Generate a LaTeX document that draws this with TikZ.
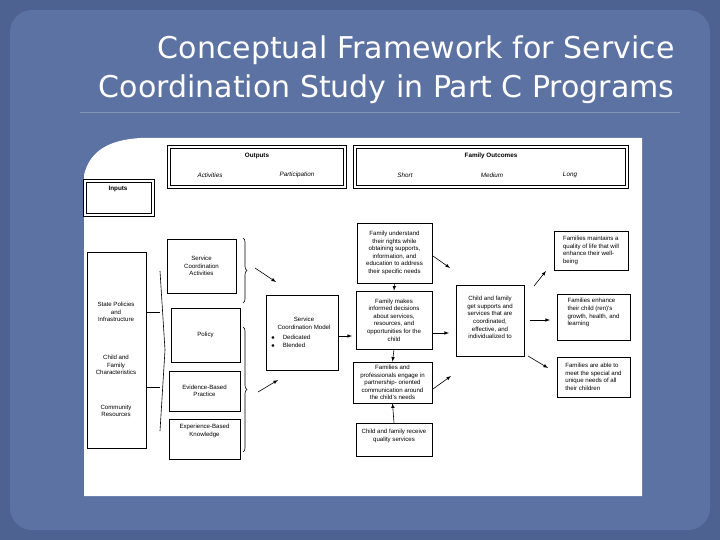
\documentclass[tikz,border=0pt]{standalone}
\usepackage{fontspec}
\setmainfont{Liberation Sans}
\newfontfamily\titlefont{DejaVu Sans}
\usetikzlibrary{decorations.pathreplacing}
\begin{document}
\begin{tikzpicture}[x=1pt,y=-1pt,
  bx/.style={draw=black,line width=0.6pt,fill=white,inner sep=1pt,align=center,font=\fontsize{6.1}{7.6}\selectfont},
  dbx/.style={draw=black,line width=1pt,double,double distance=1.2pt,fill=white},
  hd/.style={font=\bfseries\fontsize{6.3}{7}\selectfont},
  it/.style={font=\itshape\fontsize{6.3}{7}\selectfont},
  ar/.style={->,>=latex,line width=0.6pt},
  br/.style={decorate,decoration={brace,amplitude=4pt},line width=0.6pt}]
\useasboundingbox (0,0) rectangle (720,540);
\fill[fill={rgb,255:red,78;green,98;blue,146}] (0,0) rectangle (720,540);
\fill[fill={rgb,255:red,92;green,114;blue,163},rounded corners=22pt] (10,10) rectangle (710,530);
\node[anchor=east,text=white,align=right,font=\titlefont\fontsize{30}{39}\selectfont] (title) at (678,70) {Conceptual Framework for Service\\Coordination Study in Part C Programs};
\draw[white,opacity=0.25] (80,112) -- (680,112);
% white panel
\fill[white] (84,496) -- (84,175) .. controls (90,150) and (110,140) .. (140,138) -- (642,138) -- (642,496) -- cycle;
% headers
\node[dbx,minimum width=176,minimum height=40] (out) at (257,167) {};
\node[hd] (outt) at (257,156) {Outputs};
\node[it] (act) at (210,175) {Activities};
\node[it] (par) at (297,175) {Participation};
\node[dbx,minimum width=272,minimum height=40] (fo) at (491,167) {};
\node[hd] (fot) at (491,156) {Family Outcomes};
\node[it] (sh) at (405,175) {Short};
\node[it] (me) at (492,175) {Medium};
\node[it] (lo) at (570,175) {Long};
\node[dbx,minimum width=68,minimum height=34] (inp) at (119,198) {};
\node[hd] (inpt) at (118,189) {Inputs};
% inputs
\node[bx,minimum width=59,minimum height=196] (left) at (116.5,350) {};
\node[bx,draw=none,fill=none] (l1) at (116,312) {State Policies\\and\\Infrastructure};
\node[bx,draw=none,fill=none] (l2) at (116,365) {Child and\\Family\\Characteristics};
\node[bx,draw=none,fill=none] (l3) at (116,411) {Community\\Resources};
\coordinate (b1) at (160,312); \coordinate (b2) at (160,387);
\draw[line width=0.6pt] (left.east|-b1) -- (b1);
\draw[line width=0.6pt] (left.east|-b2) -- (b2);
\draw[line width=0.6pt] (160,271) -- (165,350) -- (160,431);
% activities
\node[bx,minimum width=69,minimum height=54] (sca) at (201.5,266) {Service\\Coordination\\Activities};
\node[bx,minimum width=69,minimum height=54] (pol) at (205.5,335) {Policy};
\node[bx,minimum width=71,minimum height=40] (ebp) at (204.5,391) {Evidence-Based\\Practice};
\node[bx,minimum width=71,minimum height=40,text depth=18pt] (ebk) at (204.5,439) {Experience-Based\\Knowledge};
\draw[br] (243,238) -- (243,303);
\draw[br] (243,327) -- (243,452);
\node[bx,minimum width=72,minimum height=75,align=left] (scm) at (302,332.5) {\hspace*{4pt}\makebox[58pt]{Service}\\\hspace*{4pt}\makebox[58pt]{Coordination Model}\\[3pt]$\bullet$\hspace{8pt}Dedicated\\$\bullet$\hspace{8pt}Blended};
\coordinate (a1s) at (255,268); \coordinate (a1e) at (276,282);
\coordinate (a2s) at (258,392); \coordinate (a2e) at (278,380);
\draw[ar] (a1s) -- (a1e);
\draw[ar] (a2s) -- (a2e);
% short
\node[bx,minimum width=75,minimum height=60] (fu) at (394.5,253) {Family understand\\their rights while\\obtaining supports,\\information, and\\education to address\\their specific needs};
\node[bx,minimum width=76,minimum height=58] (fm) at (394,320) {Family makes\\informed decisions\\about services,\\resources, and\\opportunities for the\\child};
\node[bx,minimum width=79,minimum height=41] (fp) at (392.5,382.5) {Families and\\professionals engage in\\partnership- oriented\\communication around\\the child's needs};
\node[bx,minimum width=76,minimum height=33,text depth=8pt] (cr) at (394,439.5) {Child and family receive\\quality services};
\coordinate (a3e) at (352,336);
\draw[ar] (scm.east|-a3e) -- (a3e);
\draw[ar] (fu.south) -- (fm.north);
\draw[ar] (fm.south) -- (fp.north);
\draw[ar] (cr.north) -- (fp.south);
% medium
\node[bx,minimum width=68,minimum height=71,text depth=6pt] (cf) at (490,320.5) {Child and family\\get supports and\\services that are\\coordinated,\\effective, and\\individualized to};
\coordinate (a4s) at (433,256); \coordinate (a4e) at (450,268);
\coordinate (a5s) at (433,333); \coordinate (a5e) at (449,333);
\coordinate (a6s) at (433,389); \coordinate (a6e) at (451,376);
\draw[ar] (a4s) -- (a4e);
\draw[ar] (a5s) -- (a5e);
\draw[ar] (a6s) -- (a6e);
% long
\node[bx,minimum width=74,minimum height=39,align=left] (q) at (591,250.5) {Families maintains a\\quality of life that will\\enhance their well-\\being};
\node[bx,minimum width=73,minimum height=46,align=left,text depth=10pt] (en) at (593.5,317) {Families enhance\\their child (ren)'s\\growth, health, and\\learning};
\node[bx,minimum width=73,minimum height=40,align=left] (ab) at (593.5,377) {Families are able to\\meet the special and\\unique needs of all\\their children};
\coordinate (a7s) at (534,286); \coordinate (a7e) at (546,271);
\coordinate (a8s) at (530,320); \coordinate (a8e) at (550,320);
\coordinate (a9s) at (528,356); \coordinate (a9e) at (548,368);
\draw[ar] (a7s) -- (a7e);
\draw[ar] (a8s) -- (a8e);
\draw[ar] (a9s) -- (a9e);
\end{tikzpicture}
\end{document}
